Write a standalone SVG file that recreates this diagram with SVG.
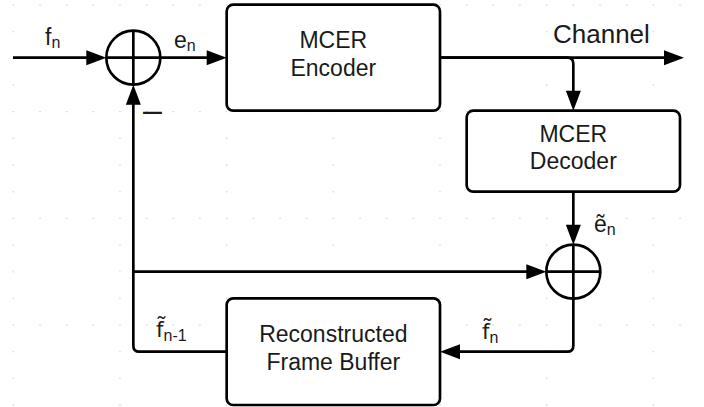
<svg xmlns="http://www.w3.org/2000/svg" width="704" height="407" viewBox="0 0 704 407">
  <defs>
    <pattern id="dots" patternUnits="userSpaceOnUse" x="12.733" y="4.4" width="106.667" height="106.667">
      <rect x="0" y="0" width="1.2" height="1.2" fill="#c4c4c4"/>
      <rect x="26.667" y="0" width="1.2" height="1.2" fill="#c4c4c4"/>
      <rect x="53.333" y="0" width="1.2" height="1.2" fill="#c4c4c4"/>
      <rect x="80" y="0" width="1.2" height="1.2" fill="#c4c4c4"/>
      <rect x="0" y="26.667" width="1.2" height="1.2" fill="#c4c4c4"/>
      <rect x="0" y="53.333" width="1.2" height="1.2" fill="#c4c4c4"/>
      <rect x="0" y="80" width="1.2" height="1.2" fill="#c4c4c4"/>
    </pattern>
    <marker id="arrow" markerUnits="userSpaceOnUse" markerWidth="20" markerHeight="15" refX="10" refY="7.5" orient="auto" overflow="visible">
      <path d="M0,0 L20,7.5 L0,15 Z" fill="#000"/>
    </marker>
    <style>
      .box { fill: #fff; stroke: #000; stroke-width: 2.67; }
      .sum { fill: #fff; stroke: #000; stroke-width: 2.67; }
      .cross { stroke: #000; stroke-width: 2.67; fill: none; }
      .wire { fill: none; stroke: #000; stroke-width: 2.67; }
      .arr { marker-end: url(#arrow); }
      .lbl { font-family: "Liberation Sans", Arial, sans-serif; font-size: 23px; fill: #1a1a1a; }
      .mid { text-anchor: middle; }
      .sub { font-size: 16px; font-family: "Liberation Sans", Arial, sans-serif; }
      .ft { font-family: "Noto Sans", "Liberation Sans", sans-serif; font-size: 22px; }
      .chan { font-size: 26px; }
      .minus { font-size: 34px; }
    </style>
  </defs>

  <rect id="grid" x="0" y="0" width="704" height="407" fill="url(#dots)"/>

  <g id="connectors">
    <path class="wire arr" d="M13,57.67 H96.33"/>
    <path class="wire arr" d="M160.33,57.67 H216.67"/>
    <path class="wire arr" d="M440,57.67 H674"/>
    <path class="wire arr" d="M440,57.67 H567.33 Q573.33,57.67 573.33,63.67 V100.67"/>
    <path class="wire arr" d="M573.33,191.67 V234.67"/>
    <path class="wire arr" d="M133.33,271.67 H536.33"/>
    <path class="wire arr" d="M573.33,298.67 V345.67 Q573.33,351.67 567.33,351.67 H450"/>
    <path class="wire arr" d="M226.67,351.67 H139.33 Q133.33,351.67 133.33,345.67 V94.67"/>
  </g>

  <g id="sum1">
    <circle class="sum" cx="133.33" cy="57.67" r="27"/>
    <path class="cross" d="M106.33,57.67 H160.33 M133.33,30.67 V84.67"/>
  </g>

  <g id="encoder">
    <rect class="box" x="226.67" y="4.67" width="213.33" height="106" rx="6.5"/>
    <text class="lbl mid" x="333.33" y="47.9">MCER</text>
    <text class="lbl mid" x="333.33" y="75.5">Encoder</text>
  </g>

  <g id="decoder">
    <rect class="box" x="466.67" y="110.67" width="213.33" height="81" rx="6.5"/>
    <text class="lbl mid" x="573.33" y="141.6">MCER</text>
    <text class="lbl mid" x="573.33" y="169">Decoder</text>
  </g>

  <g id="sum2">
    <circle class="sum" cx="573.33" cy="271.67" r="27"/>
    <path class="cross" d="M546.33,271.67 H600.33 M573.33,244.67 V298.67"/>
  </g>

  <g id="buffer">
    <rect class="box" x="226.67" y="298.33" width="213.33" height="106.67" rx="6.5"/>
    <text class="lbl mid" x="333.33" y="342">Reconstructed</text>
    <text class="lbl mid" x="333.33" y="369.6">Frame Buffer</text>
  </g>

  <g id="labels">
    <text class="lbl" x="45" y="45">f<tspan class="sub" dy="2.5">n</tspan></text>
    <text class="lbl" x="174" y="48">e<tspan class="sub" dy="2.5">n</tspan></text>
    <text class="lbl minus" x="143" y="121">–</text>
    <text class="lbl chan" x="553" y="43">Channel</text>
    <text class="lbl" x="594" y="232">ẽ<tspan class="sub" dy="3">n</tspan></text>
    <text class="lbl" x="482" y="339"><tspan class="ft">f̃</tspan><tspan class="sub" dy="4">n</tspan></text>
    <text class="lbl" x="156" y="337"><tspan class="ft">f̃</tspan><tspan class="sub" dy="4">n-1</tspan></text>
  </g>
</svg>
